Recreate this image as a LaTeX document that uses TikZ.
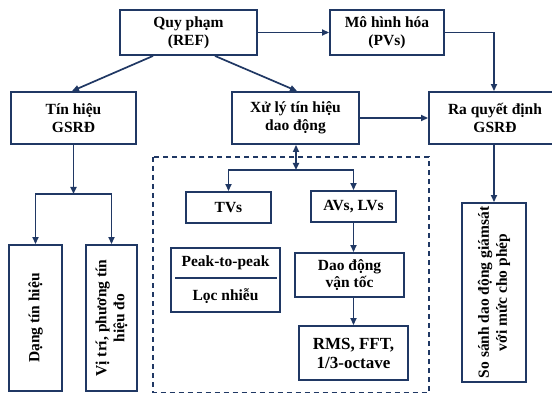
\documentclass[tikz,border=0pt]{standalone}
\usepackage{fontspec}
\setmainfont{Liberation Serif}
\usetikzlibrary{arrows.meta}
\definecolor{navy}{RGB}{32,56,100}
\begin{document}
\begin{tikzpicture}[x=1pt,y=-1pt,
  box/.style={draw=navy, line width=1.9pt, fill=white, inner sep=0pt, align=center,
    font=\fontsize{15.5}{18}\selectfont\bfseries},
  txt/.style={inner sep=0pt, align=center, font=\fontsize{15.5}{18}\selectfont\bfseries},
  arr/.style={draw=navy, line width=1.7pt, -{Triangle[length=7pt,width=6pt]}},
  dbl/.style={draw=navy, line width=1.7pt, {Triangle[length=7pt,width=6pt]}-{Triangle[length=7pt,width=6pt]}},
  ln/.style={draw=navy, line width=1.7pt},
  dashbox/.style={draw=navy, line width=1.6pt, dash pattern=on 5pt off 4pt}]
\useasboundingbox (0,0) rectangle (552,393);
\clip (0,0) rectangle (552,393);
\fill[white] (0,0) rectangle (552,393);
% dashed frame
\draw[dashbox] (153,157) rectangle (429,392.5);
% top row
\node[box, minimum width=137pt, minimum height=45pt] (qp) at (188.5,32.5) {Quy phạm\\(REF)};
\node[box, minimum width=114pt, minimum height=45pt] (mh) at (387,32.5) {Mô hình  hóa\\(PVs)};
% second row
\node[box, minimum width=125pt, minimum height=52pt] (th) at (73.5,118) {Tín hiệu\\GSRĐ};
\node[box, minimum width=127pt, minimum height=52pt] (xl) at (295.5,118) {Xử lý tín hiệu\\dao động};
\node[box, minimum width=132pt, minimum height=52pt] (ra) at (495,118) {Ra quyết định\\GSRĐ};
% inside dashed frame
\node[box, minimum width=85pt, minimum height=31pt] (tvs) at (228.5,207.5) {TVs};
\node[box, minimum width=85pt, minimum height=31pt] (av) at (353.5,206.5) {AVs, LVs};
\node[box, minimum width=109pt, minimum height=64pt] (pk) at (225.5,280) {};
\node[txt] (pkt) at (225.5,263) {Peak-to-peak};
\node[txt] (lnt) at (225.5,296) {Lọc nhiễu};
\draw[ln] (175,278) -- (277,278);
\node[box, minimum width=109pt, minimum height=44pt, font=\fontsize{15.5}{17}\selectfont\bfseries] (dd) at (349.5,275) {Dao động\\vận tốc};
\node[box, minimum width=109pt, minimum height=54pt, font=\fontsize{17}{19}\selectfont\bfseries] (rms) at (353.5,353) {RMS, FFT,\\1/3-octave};
% vertical boxes
\node[box, minimum width=53pt, minimum height=146pt] (dang) at (35.5,318) {};
\node[txt, rotate=90] (dangt) at (dang.center) {Dạng tín hiệu};
\node[box, minimum width=51pt, minimum height=146pt] (vt) at (111.5,318) {};
\node[txt, rotate=90] (vtt) at (vt.center) {Vị trí, phương tín\\hiệu đo};
\node[box, minimum width=64pt, minimum height=179pt] (ss) at (494,292.5) {};
\node[txt, rotate=90] (sst) at (ss.center) {So sánh dao động giámsát\\với mức cho phép};
% junctions
\coordinate (j1) at (73.5,194);
\coordinate (j2) at (296,170);
% connectors
\draw[arr] (qp.east) -- (mh.west);
\draw[arr] ([xshift=-35.5pt]qp.south) -- ([xshift=-1.5pt]th.north);
\draw[arr] ([xshift=26.5pt]qp.south) -- ([xshift=1.5pt]xl.north);
\draw[arr] (mh.east) -| ([xshift=-1pt]ra.north);
\draw[arr] (xl.east) -- (ra.west);
\draw[arr] ([xshift=-1pt]ra.south) -- ([xshift=-1pt]ra.south |- ss.north);
\draw[arr] (th.south) -- (j1);
\draw[arr] (j1) -| (dang.north);
\draw[arr] (j1) -| (vt.north);
\draw[dbl] (xl.south -| j2) -- (j2);
\draw[arr] (j2) -| (tvs.north);
\draw[arr] (j2) -| (av.north);
\draw[arr] (av.south) -- (av.south |- dd.north);
\draw[arr] (rms.north |- dd.south) -- (rms.north);
\end{tikzpicture}
\end{document}
